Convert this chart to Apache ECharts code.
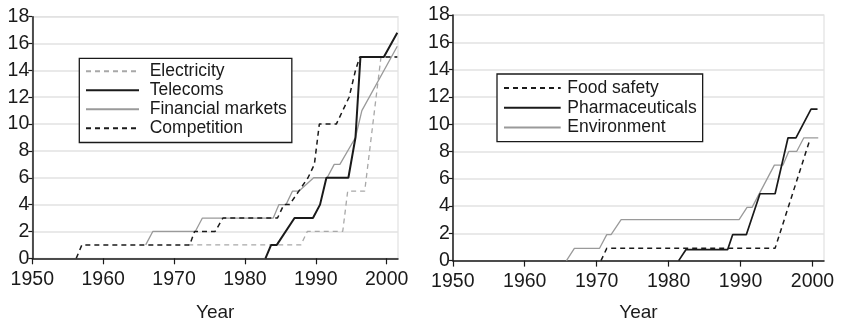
<!DOCTYPE html>
<html>
<head>
<meta charset="utf-8">
<script src="https://cdn.jsdelivr.net/npm/echarts@6/dist/echarts.min.js"></script>
<style>
  html, body { margin: 0; padding: 0; background: #fff; }
  #chart { width: 843px; height: 325px; }
</style>
</head>
<body>
<div id="chart"></div>
<script>
// Cumulative number of independent regulators per sector, [year, count]
const electricity = [[1972,1],[1987.9,1],[1988.8,2],[1993.8,2],[1994.5,5],[1996.9,5],[1999.2,15],[2001.5,15]];
const telecoms = [[1982.9,0],[1983.7,1],[1984.5,1],[1987,3],[1989.6,3],[1990.6,4],[1991.5,6],[1994.6,6],[1995.6,9],[1996.3,15],[1999.6,15],[2001.5,16.8]];
const financialMarkets = [[1966,1],[1967,2],[1973,2],[1974,3],[1984,3],[1984.8,4],[1985.8,4],[1986.7,5],[1987.6,5],[1989.7,6],[1991.6,6],[1992.6,7],[1993.4,7],[1995.6,9],[1996.5,11],[2001.5,15.8]];
const competition = [[1956.2,0],[1957,1],[1972.2,1],[1972.9,2],[1975.8,2],[1976.9,3],[1984.6,3],[1985.5,4],[1986.3,4],[1987.6,5],[1988.9,6],[1989.8,7],[1990.5,10],[1992.9,10],[1994.7,12],[1995.6,14],[1996.2,15],[2001.5,15]];

const foodSafety = [[1970.6,0],[1971.4,0.9],[1994.8,0.9],[1999.6,8.8]];
const pharmaceuticals = [[1981.4,0],[1982.4,0.8],[1988.2,0.8],[1988.9,1.9],[1990.8,1.9],[1992.7,4.9],[1994.8,4.9],[1996.6,9],[1997.7,9],[1999.8,11.1],[2000.7,11.1]];
const environment = [[1965.8,0],[1966.9,0.9],[1970.4,0.9],[1971.4,1.9],[1972,1.9],[1973.4,3],[1989.8,3],[1990.9,3.9],[1991.6,3.9],[1994.7,7],[1995.9,7],[1996.7,8],[1997.8,8],[1998.8,9],[2000.8,9]];

const yearTicks = [1950, 1960, 1970, 1980, 1990, 2000];
const axisTitle = 'Year';

const FONT = "'Liberation Sans', Arial, sans-serif";
const INK = '#1a1a1a';
const GRAY = '#9a9a9a';
const LIGHT = '#a8a8a8';

function xAxisFor(gridIndex, nameGap) {
  return {
    gridIndex, type: 'value', min: 1950, max: 2001.6,
    name: axisTitle, nameLocation: 'middle', nameGap,
    nameTextStyle: { fontFamily: FONT, fontSize: 19, color: INK },
    axisLine: { show: true, lineStyle: { color: INK, width: 1.5 } },
    axisTick: { show: true, length: 6, lineStyle: { color: INK, width: 1.2 }, customValues: yearTicks },
    axisLabel: { fontFamily: FONT, fontSize: 19.5, color: INK, margin: 11, customValues: yearTicks,
      formatter: v => String(v) },
    splitLine: { show: false }
  };
}
function yAxisFor(gridIndex) {
  return {
    gridIndex, type: 'value', min: 0, max: 18, interval: 2,
    axisLine: { show: true, lineStyle: { color: INK, width: 1.5 } },
    axisTick: { show: true, length: 4, lineStyle: { color: INK, width: 1.2 } },
    axisLabel: { fontFamily: FONT, fontSize: 19.5, color: INK, margin: 3 },
    splitLine: { show: true, lineStyle: { color: '#e2e2e2', width: 1.5 } }
  };
}
function line(name, data, idx, color, width, type, z) {
  return {
    name, type: 'line', data, xAxisIndex: idx, yAxisIndex: idx,
    symbol: 'none', z, animation: false,
    lineStyle: { color, width, type: type === 'dashed' ? [5, 4] : 'solid' },
    itemStyle: { color }
  };
}
function legendBox(left, top, names, itemWidth, gap, pad, textPad) {
  return {
    left, top, orient: 'vertical', data: names,
    itemWidth, itemHeight: 14, itemGap: gap,
    padding: pad, borderColor: INK, borderWidth: 1.3, backgroundColor: '#fff',
    itemStyle: { opacity: 0 },
    textStyle: { fontFamily: FONT, fontSize: 17.5, lineHeight: 14, color: INK, padding: [0, 0, 0, textPad] },
    selectedMode: false
  };
}
function gridBox(left, top, width, height) {
  return {
    left, top, width, height, outerBoundsMode: 'none', containLabel: false,
    show: true, borderColor: '#e2e2e2', borderWidth: 1.2, backgroundColor: 'transparent'
  };
}

const chart = echarts.init(document.getElementById('chart'), null, { renderer: 'canvas' });
chart.setOption({
  animation: false,
  backgroundColor: '#fff',
  grid: [
    gridBox(32.3, 16.7, 365.7, 241.6),
    gridBox(452.8, 15, 371.2, 245.6)
  ],
  xAxis: [xAxisFor(0, 45), xAxisFor(1, 43)],
  yAxis: [yAxisFor(0), yAxisFor(1)],
  legend: [
    legendBox(79.3, 58.3, ['Electricity', 'Telecoms', 'Financial markets', 'Competition'], 53, 1, [4, 5, 5.2, 5.7], 5.7),
    legendBox(497, 74, ['Food safety', 'Pharmaceuticals', 'Environment'], 56.7, 1.7, [5, 6, 5.2, 6], 1.6)
  ],
  series: [
    line('Electricity', electricity, 0, LIGHT, 1.3, 'dashed', 2),
    line('Financial markets', financialMarkets, 0, GRAY, 1.3, 'solid', 3),
    line('Competition', competition, 0, INK, 1.5, 'dashed', 4),
    line('Telecoms', telecoms, 0, INK, 2, 'solid', 5),
    line('Environment', environment, 1, GRAY, 1.3, 'solid', 3),
    line('Food safety', foodSafety, 1, INK, 1.5, 'dashed', 4),
    line('Pharmaceuticals', pharmaceuticals, 1, INK, 1.7, 'solid', 5)
  ]
});
</script>
</body>
</html>
